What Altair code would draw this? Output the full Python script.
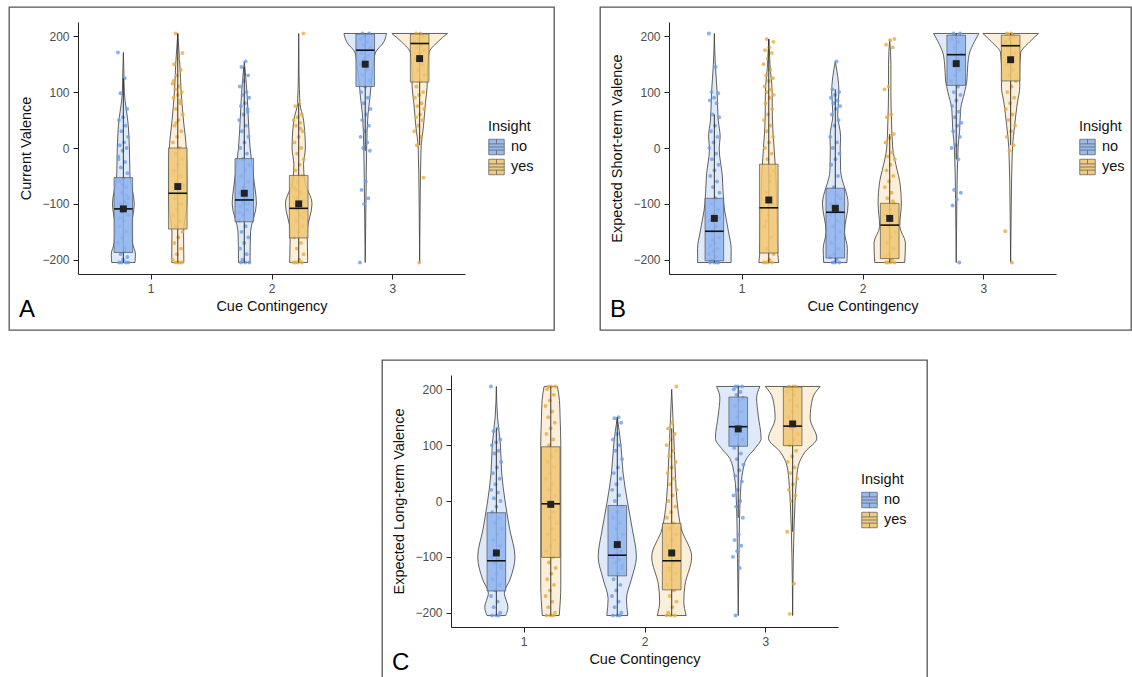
import altair as alt
import pandas as pd

# ---------------------------------------------------------------- data
CONTINGENCY = [1, 2, 3]
INSIGHT = ["no", "yes"]
PANELS = ["A", "B", "C"]
Y_TITLES = ["Current Valence", "Expected Short-term Valence", "Expected Long-term Valence"]
X_TITLE = "Cue Contingency"
Y_TICKS = [-200, -100, 0, 100, 200]
X_TICKS = [1, 2, 3]

# box statistics; group order: 1-no, 1-yes, 2-no, 2-yes, 3-no, 3-yes
A_Q1 = [-187, -145, -132, -161, 110, 118]
A_MED = [-109, -81, -93, -108, 175, 187]
A_Q3 = [-53, 0, -19, -49, 204, 204]
A_LO = [-205, -205, -205, -205, -5, 5]
A_HI = [125, 205, 145, 80, 205, 205]
A_MEAN = [-109, -69, -81, -100, 150, 160]

B_Q1 = [-202, -188, -197, -198, 112, 120]
B_MED = [-149, -107, -115, -138, 167, 183]
B_Q3 = [-90, -29, -72, -99, 202, 202]
B_LO = [-205, -205, -205, -205, -20, 5]
B_HI = [60, 195, 105, 25, 205, 205]
B_MEAN = [-126, -93, -108, -126, 151, 158]

C_Q1 = [-161, -101, -134, -159, 98, 99]
C_MED = [-107, -5, -97, -107, 133, 134]
C_Q3 = [-21, 97, -8, -40, 186, 204]
C_LO = [-205, -205, -205, -205, -30, -55]
C_HI = [130, 205, 150, 130, 205, 205]
C_MEAN = [-93, -6, -78, -93, 129, 138]

# violin profiles: (value, half-width in x units)
V_A1_NO = [(-205, 0.096), (-190, 0.10), (-170, 0.076), (-140, 0.069), (-100, 0.09), (-50, 0.055),
           (0, 0.05), (40, 0.041), (100, 0.008), (140, 0.004), (171, 0)]
V_A1_YES = [(-205, 0.05), (-200, 0.05), (-150, 0.048), (-100, 0.075), (-50, 0.075), (0, 0.07),
            (50, 0.047), (100, 0.028), (150, 0.017), (205, 0)]
V_A2_NO = [(-205, 0.048), (-200, 0.048), (-150, 0.052), (-100, 0.10), (-50, 0.075), (0, 0.048),
           (50, 0.034), (100, 0.022), (155, 0)]
V_A2_YES = [(-205, 0.074), (-200, 0.074), (-150, 0.07), (-100, 0.11), (-60, 0.05), (-30, 0.04),
            (0, 0.055), (50, 0.04), (80, 0.01), (130, 0.003), (205, 0)]
V_A3_NO = [(-205, 0), (-100, 0.006), (0, 0.012), (60, 0.023), (90, 0.039), (120, 0.051),
           (150, 0.069), (170, 0.083), (190, 0.154), (205, 0.176)]
V_A3_YES = [(-205, 0), (-100, 0.004), (0, 0.012), (40, 0.032), (80, 0.048), (110, 0.062),
            (140, 0.065), (170, 0.076), (190, 0.15), (205, 0.23)]

V_B1_NO = [(-205, 0.138), (-180, 0.139), (-150, 0.117), (-100, 0.078), (-50, 0.066), (0, 0.04),
           (20, 0.048), (50, 0.032), (100, 0.023), (150, 0.008), (205, 0)]
V_B1_YES = [(-205, 0.083), (-190, 0.075), (-150, 0.07), (-100, 0.065), (-50, 0.058), (0, 0.044),
            (50, 0.03), (100, 0.028), (150, 0.01), (195, 0)]
V_B2_NO = [(-205, 0.096), (-180, 0.10), (-150, 0.076), (-100, 0.106), (-40, 0.044), (0, 0.041),
           (20, 0.044), (60, 0.02), (100, 0.03), (155, 0)]
V_B2_YES = [(-205, 0.124), (-170, 0.13), (-140, 0.083), (-100, 0.096), (-60, 0.083), (-40, 0.062),
            (0, 0.025), (50, 0.015), (100, 0.01), (150, 0.01), (195, 0)]
V_B3_NO = [(-205, 0), (-100, 0.005), (0, 0.015), (30, 0.028), (70, 0.037), (100, 0.069),
           (120, 0.088), (150, 0.096), (170, 0.11), (190, 0.15), (205, 0.187)]
V_B3_YES = [(-205, 0), (-100, 0.005), (0, 0.015), (40, 0.033), (80, 0.055), (110, 0.076),
            (130, 0.074), (170, 0.083), (190, 0.158), (205, 0.23)]

V_C1_NO = [(-205, 0.077), (-190, 0.096), (-165, 0.066), (-140, 0.114), (-100, 0.154), (-50, 0.11),
           (0, 0.072), (50, 0.044), (100, 0.034), (150, 0.01), (205, 0)]
V_C1_YES = [(-205, 0.07), (-150, 0.083), (-100, 0.083), (0, 0.083), (50, 0.083), (100, 0.083),
            (150, 0.077), (180, 0.072), (205, 0.055)]
V_C2_NO = [(-205, 0.087), (-175, 0.076), (-140, 0.117), (-100, 0.158), (-50, 0.124), (0, 0.083),
           (50, 0.048), (100, 0.03), (150, 0)]
V_C2_YES = [(-205, 0.12), (-180, 0.10), (-150, 0.11), (-100, 0.165), (-50, 0.08), (0, 0.044),
            (50, 0.03), (100, 0.02), (150, 0.01), (200, 0)]
V_C3_NO = [(-205, 0), (-103, 0.006), (-43, 0.01), (16, 0.019), (46, 0.032), (76, 0.069),
           (94, 0.138), (112, 0.189), (154, 0.165), (184, 0.152), (205, 0.179)]
V_C3_YES = [(-205, 0), (-100, 0.006), (0, 0.02), (28, 0.028), (64, 0.048), (88, 0.103),
            (112, 0.2), (148, 0.145), (184, 0.165), (205, 0.227)]

P_A1_NO = [171, 125, 98, 70, 55, 50, 40, 30, 20, 10, 5, 0, -5, -15, -25, -35, -45, -55, -60, -70,
           -80, -90, -95, -100, -100, -105, -110, -110, -115, -120, -130, -140, -150, -160, -170,
           -180, -190, -195, -200, -205, -205, -205, -205, -185, -125, -85, -65, -20]
P_A1_YES = [205, 170, 160, 150, 140, 130, 115, 110, 105, 100, 95, 90, 80, 70, 60, 50, 40, 30, 20,
            10, 0, -10, -20, -30, -40, -50, -60, -70, -80, -90, -100, -110, -120, -130, -140, -150,
            -160, -170, -180, -190, -200, -205, -205, -205, -205, 120, 85, 45, -65, -100]
P_A2_NO = [155, 145, 130, 120, 110, 100, 95, 90, 80, 75, 70, 60, 50, 40, 30, 20, 10, 0, -10, -20,
           -30, -40, -50, -60, -70, -80, -90, -95, -100, -100, -105, -110, -120, -130, -140, -150,
           -160, -170, -180, -190, -200, -205, -205, -205, 65, -85, -115]
P_A2_YES = [205, 80, 75, 60, 55, 50, 45, 40, 30, 20, 10, 0, -10, -20, -30, -40, -50, -60, -70, -80,
            -90, -95, -100, -100, -105, -110, -115, -120, -130, -140, -150, -160, -170, -180, -190,
            -200, -205, -205, -205, -205, 35, -75, -125]
P_A3_NO = [205, 205, 200, 195, 190, 185, 180, 175, 170, 165, 160, 150, 140, 130, 120, 110, 100, 90,
           80, 70, 60, 50, 40, 30, 20, 10, 0, -5, -60, -75, -90, -100, -205]
P_A3_YES = [205, 205, 200, 195, 190, 185, 180, 175, 170, 160, 150, 140, 130, 120, 110, 100, 95, 90,
            80, 75, 70, 60, 55, 50, 40, 30, 20, 5, -53, -205]

P_B1_NO = [205, 145, 100, 98, 90, 85, 80, 60, 55, 40, 30, 20, 10, 0, -10, -20, -30, -40, -50, -60,
           -70, -80, -90, -100, -110, -120, -130, -140, -150, -160, -170, -175, -180, -185, -190,
           -195, -200, -205, -205, -205, -205, -165, -125]
P_B1_YES = [195, 190, 180, 175, 170, 160, 150, 140, 130, 125, 120, 110, 105, 100, 95, 90, 80, 70,
            60, 50, 40, 30, 20, 10, 0, -10, -20, -40, -60, -80, -100, -120, -140, -160, -180, -190,
            -200, -205, -205, -205, -205, -50, -130]
P_B2_NO = [155, 105, 100, 95, 90, 85, 80, 75, 70, 60, 50, 40, 20, 10, 0, -10, -20, -30, -50, -70,
           -90, -100, -105, -110, -115, -120, -130, -140, -150, -160, -170, -180, -190, -195, -200,
           -205, -205, -205, -100, -85]
P_B2_YES = [195, 193, 185, 180, 110, 105, 60, 55, 25, 18, 10, -8, -15, -20, -30, -40, -50, -60, -70,
            -80, -90, -100, -110, -120, -130, -140, -150, -160, -170, -180, -190, -195, -200, -205,
            -205, -205, -205, -95, -125]
P_B3_NO = [205, 205, 200, 195, 190, 180, 170, 160, 150, 140, 130, 120, 110, 100, 95, 85, 75, 65, 55,
           45, 40, 30, 20, 5, 0, -20, -75, -80, -92, -103, -205]
P_B3_YES = [205, 205, 200, 195, 190, 185, 180, 170, 160, 150, 140, 130, 120, 110, 100, 90, 80, 70,
            60, 50, 40, 30, 20, 5, -5, -149, -205]

P_C1_NO = [205, 130, 125, 110, 105, 100, 90, 85, 70, 60, 50, 40, 30, 20, 15, 5, 0, -10, -20, -30,
           -40, -50, -60, -70, -80, -90, -100, -105, -110, -120, -130, -140, -150, -160, -170, -180,
           -190, -200, -205, -205, -205, -95, -115]
P_C1_YES = [205, 205, 205, 200, 190, 180, 170, 160, 150, 140, 130, 120, 110, 100, 90, 80, 70, 60,
            50, 40, 30, 20, 10, 0, -10, -20, -30, -40, -50, -60, -70, -80, -90, -100, -110, -120,
            -130, -140, -150, -160, -170, -180, -190, -200, -205, -205, -205]
P_C2_NO = [150, 148, 140, 120, 110, 100, 90, 75, 60, 50, 40, 30, 20, 10, 0, -10, -20, -30, -40, -50,
           -60, -70, -80, -90, -95, -100, -105, -110, -120, -130, -140, -150, -160, -170, -180, -190,
           -200, -205, -205, -205, -85, -115]
P_C2_YES = [205, 140, 130, 120, 110, 100, 90, 80, 70, 60, 50, 40, 30, 20, 10, 0, -10, -20, -30, -40,
            -50, -60, -70, -80, -90, -100, -105, -110, -120, -130, -140, -150, -160, -170, -180,
            -190, -200, -205, -205, -205, -95, -125]
P_C3_NO = [205, 205, 205, 200, 195, 190, 185, 180, 170, 160, 150, 140, 130, 120, 110, 100, 95, 85,
           75, 65, 55, 45, 35, 20, 10, 0, -10, -30, -60, -70, -80, -90, -100, -120, -205]
P_C3_YES = [205, 205, 205, 200, 195, 190, 180, 170, 160, 150, 140, 130, 120, 110, 100, 90, 80, 70,
            60, 50, 40, 30, 20, 10, 0, -55, -148, -202]

STATS = {
    "A": (A_Q1, A_MED, A_Q3, A_LO, A_HI, A_MEAN),
    "B": (B_Q1, B_MED, B_Q3, B_LO, B_HI, B_MEAN),
    "C": (C_Q1, C_MED, C_Q3, C_LO, C_HI, C_MEAN),
}
VIOLINS = {
    "A": [V_A1_NO, V_A1_YES, V_A2_NO, V_A2_YES, V_A3_NO, V_A3_YES],
    "B": [V_B1_NO, V_B1_YES, V_B2_NO, V_B2_YES, V_B3_NO, V_B3_YES],
    "C": [V_C1_NO, V_C1_YES, V_C2_NO, V_C2_YES, V_C3_NO, V_C3_YES],
}
POINTS = {
    "A": [P_A1_NO, P_A1_YES, P_A2_NO, P_A2_YES, P_A3_NO, P_A3_YES],
    "B": [P_B1_NO, P_B1_YES, P_B2_NO, P_B2_YES, P_B3_NO, P_B3_YES],
    "C": [P_C1_NO, P_C1_YES, P_C2_NO, P_C2_YES, P_C3_NO, P_C3_YES],
}

# ---------------------------------------------------------------- styling
DODGE = {"no": -0.225, "yes": 0.225}
BOX_HW = 0.077
JIT = 0.045
VIOLIN_FILL = ["#DEE9F9", "#FBEFD9"]
POINT_COL = ["#6C9EEA", "#E8AD3C"]
BOX_FILL = ["#8DB3EE", "#EEC572"]
FONT = "Liberation Sans"
PANEL_W = {"A": 545, "B": 531, "C": 545}
PANEL_H = {"A": 323, "B": 323, "C": 320}
LEGEND_SYMBOL = "M-1,-1H1V1H-1Z M-1,-0.4H1 M-1,0.4H1 M0,-1V-0.4 M0,0.4V1 M-1,0H1"


def groups():
    for c in CONTINGENCY:
        for ins in INSIGHT:
            yield c, ins


def panel(idx, letter):
    q1, med, q3, lo, hi, mean = STATS[letter]
    vrows, prows, brows = [], [], []
    for g, (c, ins) in enumerate(groups()):
        pos = c + DODGE[ins]
        for y, hw in sorted(VIOLINS[letter][g]):
            vrows.append({"gid": f"g{g}", "vins": ins, "y": y, "xlo": pos - hw, "xhi": pos + hw})
        for i, y in enumerate(POINTS[letter][g]):
            off = ((i * 0.6180339887 + g * 0.31) % 1.0 - 0.5) * 2 * JIT
            prows.append({"pins": ins, "y": y, "jx": pos + off})
        brows.append({"insight": ins, "pos": pos, "bxlo": pos - BOX_HW, "bxhi": pos + BOX_HW,
                      "q1": q1[g], "med": med[g], "q3": q3[g], "lo": lo[g], "hi": hi[g],
                      "mean": mean[g]})
    vdf, pdf_, bdf = pd.DataFrame(vrows), pd.DataFrame(prows), pd.DataFrame(brows)

    H = PANEL_H[letter]
    xs = alt.Scale(domain=[0.4, 3.6], range=[69, 456], nice=False, zero=False)
    ys = alt.Scale(domain=[-225.5, 225.5], range=[267, 15], nice=False, zero=False)
    xax = alt.Axis(title=X_TITLE, values=X_TICKS, format="d", offset=-(H - 267), grid=False,
                   titlePadding=5)
    yax = alt.Axis(title=Y_TITLES[idx], values=Y_TICKS, format="d", offset=-69, grid=False,
                   titlePadding=8)

    def X(f):
        return alt.X(f, type="quantitative", scale=xs, axis=xax, stack=None)

    def Y(f):
        return alt.Y(f, type="quantitative", scale=ys, axis=yax, stack=None)

    violin = alt.Chart(vdf).mark_area(
        orient="horizontal", interpolate="monotone", stroke="#3a3a3a", strokeWidth=0.8
    ).encode(
        y=Y("y"), x=X("xlo"), x2="xhi",
        fill=alt.Fill("gid:N", scale=alt.Scale(
            domain=[f"g{g}" for g in range(6)], range=VIOLIN_FILL * 3), legend=None),
    )
    pts = alt.Chart(pdf_).mark_circle(size=15, opacity=0.8).encode(
        x=X("jx"), y=Y("y"),
        color=alt.Color("pins:N", scale=alt.Scale(domain=INSIGHT, range=POINT_COL), legend=None),
    )
    whisk = alt.Chart(bdf).mark_rule(color="#222", strokeWidth=0.9).encode(
        x=X("pos"), y=Y("lo"), y2="hi"
    )
    box = alt.Chart(bdf).mark_rect(stroke="#555", strokeWidth=0.7, fillOpacity=0.85).encode(
        x=X("bxlo"), x2="bxhi", y=Y("q1"), y2="q3",
        fill=alt.Fill("insight:N", scale=alt.Scale(domain=INSIGHT, range=BOX_FILL),
                      legend=alt.Legend(title="Insight", orient="none", legendX=479, legendY=113,
                                        symbolType=LEGEND_SYMBOL, symbolSize=240,
                                        symbolStrokeColor="#555", symbolStrokeWidth=0.8,
                                        symbolOpacity=0.9, rowPadding=1, padding=0,
                                        labelFontSize=14.5, titleFontSize=14.5,
                                        titleFontWeight="normal", titleColor="#111",
                                        labelColor="#111", labelOffset=6, titlePadding=4)),
    )
    medl = alt.Chart(bdf).mark_rule(color="#111", strokeWidth=1.6).encode(
        x=X("bxlo"), x2="bxhi", y=Y("med")
    )
    meanpt = alt.Chart(bdf).mark_square(size=48, color="#222", opacity=1).encode(
        x=X("pos"), y=Y("mean")
    )
    lab = alt.Chart(pd.DataFrame({"t": [letter]})).mark_text(
        fontSize=24, font=FONT, align="left", baseline="alphabetic", color="#000"
    ).encode(text="t:N", x=alt.value(10), y=alt.value(310))

    return alt.layer(violin, pts, whisk, box, medl, meanpt, lab).resolve_scale(
        fill="independent", color="independent"
    ).resolve_legend(fill="independent", color="independent").properties(
        width=PANEL_W[letter], height=H
    )


pA = panel(0, "A")
pB = panel(1, "B")
pC = panel(2, "C")

spacer = alt.Chart(pd.DataFrame({"v": [0]})).mark_point(opacity=0).encode(
    x=alt.X("v:Q", axis=None), y=alt.Y("v:Q", axis=None)
).properties(width=372, height=10, view=alt.ViewBackground(strokeOpacity=0))

RS = dict(x="independent", y="independent", fill="independent", color="independent")
top = alt.hconcat(pA, pB, spacing=44).resolve_scale(**RS).resolve_legend(
    fill="independent", color="independent")
bottom = alt.hconcat(spacer, pC, spacing=0).resolve_scale(**RS).resolve_legend(
    fill="independent", color="independent")

chart = alt.vconcat(top, bottom, spacing=28).resolve_scale(**RS).resolve_legend(
    fill="independent", color="independent"
).properties(
    padding={"left": 8, "top": 6, "right": 0, "bottom": 0}
).configure(font=FONT, background="white").configure_view(
    stroke="#555", strokeWidth=1.3
).configure_axis(
    domainColor="#222", tickColor="#222", domainWidth=1, tickWidth=1, tickSize=5,
    labelColor="#4d4d4d", labelFontSize=12, labelPadding=4, titleFontSize=14.5,
    titleFontWeight="normal", titleColor="#111", labelFont=FONT, titleFont=FONT
).configure_legend(labelFont=FONT, titleFont=FONT)

chart.save("out.html", embed_options={"renderer": "svg", "actions": False})
